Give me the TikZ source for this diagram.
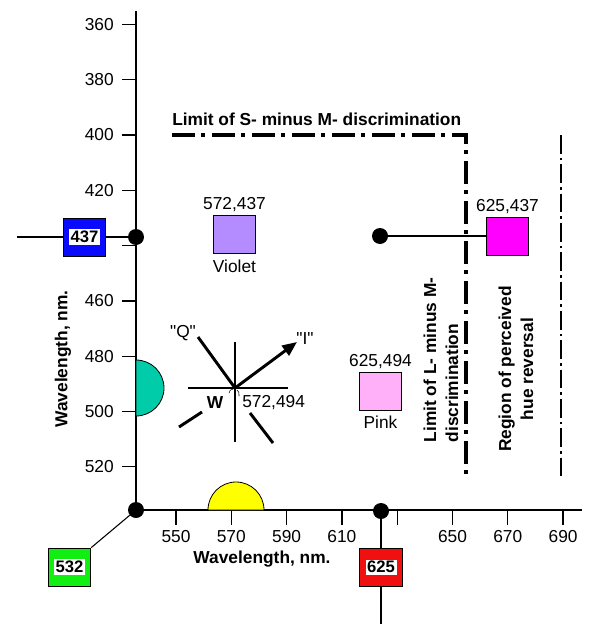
\documentclass[tikz,border=0pt]{standalone}
\usepackage{fontspec}
\setmainfont{Liberation Sans}[Ligatures=TeXOff]
\usepackage{tikz}
\usetikzlibrary{positioning,arrows.meta}
\usepackage{xcolor}
\definecolor{sqblue}{HTML}{0A0AFF}
\definecolor{sqgreen}{HTML}{11EE11}
\definecolor{sqred}{HTML}{F01010}
\definecolor{sqmagenta}{HTML}{FF00FF}
\definecolor{sqviolet}{HTML}{B48CFF}
\definecolor{sqpink}{HTML}{FFB0F8}
\definecolor{semicyan}{HTML}{00CCAA}
\definecolor{semiyellow}{HTML}{FFFF00}

\begin{document}
\begin{tikzpicture}[
      x=0.75pt, y=-0.75pt,
      every node/.style={font=\fontsize{13}{16.5}\selectfont},
      axline/.style={line width=1pt},
      axtick/.style={line width=1pt},
      dot/.style={circle, fill=black, inner sep=0pt, minimum size=12pt},
      swatch/.style={draw=black, line width=0.6pt, inner sep=0pt,
        minimum width=32pt, minimum height=28.5pt},
      swatchtag/.style={fill=white, inner sep=1.2pt,
        font=\bfseries\fontsize{12.5}{13}\selectfont},
      wire/.style={line width=0.8pt},
      boldlbl/.style={font=\bfseries\fontsize{13}{16.5}\selectfont},
      limitS/.style={line width=3pt, dash pattern=on 17pt off 5pt on 3pt off 5pt},
      limitR/.style={line width=1.1pt, dash pattern=on 14pt off 3pt on 2pt off 3pt},
      starline/.style={line width=2.2pt}
    ]
      \useasboundingbox (0,0) rectangle (600,635);

      % axes
      \coordinate (ytop) at (136,11);
      \coordinate (o) at (136,510);
      \coordinate (xend) at (582,510);
      \draw[axline] (ytop) -- (o) -- (xend);

      \foreach \w in {360,380,...,520}{
        \pgfmathsetmacro{\yy}{135+(\w-400)*2.765}
        \draw[axtick] (122,\yy) -- (136,\yy);
      }
      \foreach \w in {360,380,400,420,460,480,500,520}
        \node[anchor=east, inner sep=0pt] (ylab\w) at (114,{135+(\w-400)*2.765}) {\w};

      \foreach \w in {550,570,...,690}{
        \pgfmathsetmacro{\xx}{176+(\w-550)*2.765}
        \draw[axtick] (\xx,510) -- (\xx,525);
      }
      \foreach \w in {550,570,590,610,650,670,690}
        \node (xlab\w) at ({176+(\w-550)*2.765},537) {\w};

      \node[boldlbl] (xtitle) at (262,559) {Wavelength, nm.};
      \node[boldlbl, rotate=90] (ytitle) at (63,359) {Wavelength, nm.};

      % half discs on the axes
      \filldraw[fill=semicyan, draw=black, line width=0.6pt]
        (136,360) arc (-90:90:28) -- cycle;
      \filldraw[fill=semiyellow, draw=black, line width=0.6pt]
        (208,510) arc (180:360:28) -- cycle;

      % limit lines
      \coordinate (sm0) at (172,135);
      \coordinate (sm1) at (466,135);
      \coordinate (sm2) at (466,479);
      \draw[limitS] (sm0) -- (sm1) -- (sm2);
      \node[boldlbl, anchor=west, inner sep=0pt] (smlbl) at (172,119)
        {Limit of S- minus M- discrimination};

      \coordinate (hr0) at (561,135);
      \coordinate (hr1) at (561,478);
      \draw[limitR] (hr0) -- (hr1);

      \node[boldlbl, rotate=90, align=left] (lmlbl) at (441,360)
        {Limit of L- minus M-\\discrimination};
      \node[boldlbl, rotate=90, align=center] (hrlbl) at (516,369)
        {Region of perceived\\hue reversal};

      % points on the axes
      \node[dot] (d437) at (136,237) {};
      \node[dot] (dO) at (o) {};
      \node[dot] (d625) at (381,511) {};
      \node[dot] (dmag) at (380,236) {};

      % primaries
      \coordinate (tail437) at (17,237);
      \node[swatch, fill=sqblue] (b437) at (84.5,237) {};
      \node[swatchtag] at (b437) {437};
      \draw[wire] (tail437) -- (b437);
      \draw[wire] (b437) -- (d437);

      \node[swatch, fill=sqgreen] (b532) at (69.5,567) {};
      \node[swatchtag] at (b532) {532};
      \draw[wire] (b532.north east) -- (dO);

      \coordinate (tail625) at (381,624);
      \node[swatch, fill=sqred] (b625) at (381,567) {};
      \node[swatchtag] at (b625) {625};
      \draw[wire] (d625) -- (b625);
      \draw[wire] (b625) -- (tail625);

      % mixtures
      \node[swatch, fill=sqmagenta] (bmag) at (507.5,236) {};
      \node[above=-1pt of bmag] (bmagval) {625,437};
      \draw[wire] (dmag) -- (bmag);

      \node[swatch, fill=sqviolet] (bviolet) at (234.5,234) {};
      \node[above=-1pt of bviolet] (bvioletval) {572,437};
      \node[below=1pt of bviolet] (bvioletname) {Violet};

      \node[swatch, fill=sqpink] (bpink) at (380.5,391) {};
      \node[above=-1pt of bpink] (bpinkval) {625,494};
      \node[below=0.5pt of bpink] (bpinkname) {Pink};

      % white point and the I, Q directions
      \coordinate (w) at (235,388);
      \draw[starline] (235,342) -- (235,442);
      \draw[starline] (188,388) -- (288,388);
      \draw[starline] (198,337) -- (w);
      \draw[starline] (250,413) -- (273,443);
      \draw[starline, -{Triangle[length=11pt, width=9pt]}] (w) -- (297,342);
      \draw[starline] (179,427) -- (202,412);
      \draw[thin] (229,393) .. controls (230,390) .. (233,389);
      \draw[thin] (239,396) .. controls (239,392) .. (237,390);

      \node (qlbl) at (183,333) {"Q"};
      \node (ilbl) at (305,339) {"I"};
      \node[boldlbl] (wlbl) at (215,403) {W};
      \node[anchor=west, inner sep=0pt] (wval) at (242,403) {572,494};
    \end{tikzpicture}
\end{document}
